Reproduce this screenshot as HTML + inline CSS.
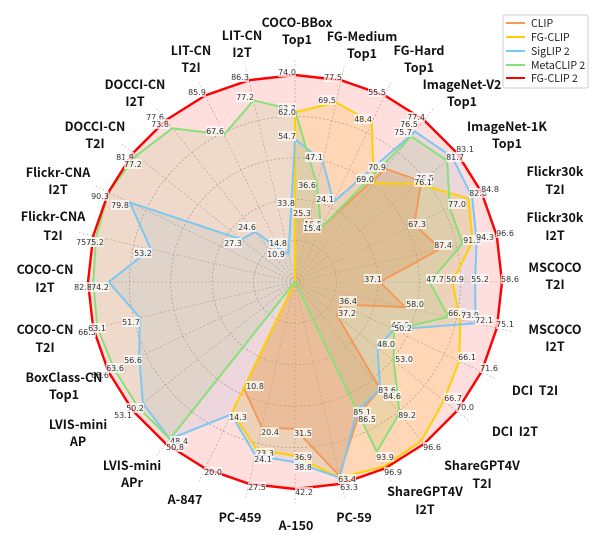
<!DOCTYPE html>
<html><head><meta charset="utf-8">
<style>
html,body{margin:0;padding:0;background:#fff;}
svg{display:block;}
.ax{font-family:"Noto Sans CJK SC","Liberation Sans",sans-serif;font-weight:bold;font-size:12.5px;fill:#111;text-anchor:middle;}
.lg{font-family:"Noto Sans CJK SC","Liberation Sans",sans-serif;font-size:10.5px;fill:#222;}
</style></head>
<body>
<svg id="s" width="600" height="546" viewBox="0 0 600 546" xmlns="http://www.w3.org/2000/svg">
<g id="grid"></g>
<g id="polys"></g>
<g id="vals"></g>
<g>
<text class="ax" x="297" y="27">COCO-BBox</text><text class="ax" x="297" y="44">Top1</text>
<text class="ax" x="362" y="41">FG-Medium</text><text class="ax" x="362" y="58">Top1</text>
<text class="ax" x="419" y="55">FG-Hard</text><text class="ax" x="419" y="72">Top1</text>
<text class="ax" x="462" y="89">ImageNet-V2</text><text class="ax" x="462" y="106">Top1</text>
<text class="ax" x="507" y="131">ImageNet-1K</text><text class="ax" x="507" y="148">Top1</text>
<text class="ax" x="555" y="176">Flickr30k</text><text class="ax" x="555" y="194">T2I</text>
<text class="ax" x="555" y="222">Flickr30k</text><text class="ax" x="555" y="240">I2T</text>
<text class="ax" x="555" y="272">MSCOCO</text><text class="ax" x="555" y="289">T2I</text>
<text class="ax" x="555" y="334">MSCOCO</text><text class="ax" x="555" y="351">I2T</text>
<text class="ax" x="535" y="395">DCI&#160; T2I</text>
<text class="ax" x="515" y="436">DCI&#160; I2T</text>
<text class="ax" x="482" y="470">ShareGPT4V</text><text class="ax" x="482" y="488">T2I</text>
<text class="ax" x="425" y="496">ShareGPT4V</text><text class="ax" x="425" y="514">I2T</text>
<text class="ax" x="354" y="522">PC-59</text>
<text class="ax" x="296" y="530">A-150</text>
<text class="ax" x="240" y="522">PC-459</text>
<text class="ax" x="185" y="504">A-847</text>
<text class="ax" x="132" y="470">LVIS-mini</text><text class="ax" x="132" y="487">APr</text>
<text class="ax" x="78" y="429">LVIS-mini</text><text class="ax" x="78" y="446">AP</text>
<text class="ax" x="64" y="382">BoxClass-CN</text><text class="ax" x="64" y="399">Top1</text>
<text class="ax" x="45" y="334">COCO-CN</text><text class="ax" x="45" y="352">T2I</text>
<text class="ax" x="45" y="274">COCO-CN</text><text class="ax" x="45" y="292">I2T</text>
<text class="ax" x="53" y="221">Flickr-CNA</text><text class="ax" x="53" y="240">T2I</text>
<text class="ax" x="58" y="177">Flickr-CNA</text><text class="ax" x="58" y="194">I2T</text>
<text class="ax" x="95" y="131">DOCCI-CN</text><text class="ax" x="95" y="148">T2I</text>
<text class="ax" x="135" y="89">DOCCI-CN</text><text class="ax" x="135" y="106">I2T</text>
<text class="ax" x="191" y="55">LIT-CN</text><text class="ax" x="191" y="72">T2I</text>
<text class="ax" x="242" y="40">LIT-CN</text><text class="ax" x="242" y="57">I2T</text>
</g>
<g>
<rect x="503" y="15" width="85" height="73" rx="2" fill="#fff" stroke="#ccc" stroke-width="1"/>
<line x1="506" y1="23" x2="525" y2="23" stroke="#f39a5a" stroke-width="2"/><text class="lg" x="531" y="27">CLIP</text>
<line x1="506" y1="37" x2="525" y2="37" stroke="#ffd000" stroke-width="2"/><text class="lg" x="531" y="41">FG-CLIP</text>
<line x1="506" y1="51" x2="525" y2="51" stroke="#7cc8f4" stroke-width="2"/><text class="lg" x="531" y="55">SigLIP 2</text>
<line x1="506" y1="65" x2="525" y2="65" stroke="#88e07a" stroke-width="2"/><text class="lg" x="531" y="69">MetaCLIP 2</text>
<line x1="506" y1="78" x2="525" y2="78" stroke="#ff0000" stroke-width="2"/><text class="lg" x="531" y="82">FG-CLIP 2</text>
</g>
</svg>
<script>
var NS="http://www.w3.org/2000/svg",cx=295,cy=282,R=207,N=28;
function el(t,a,p){var e=document.createElementNS(NS,t);for(var k in a)e.setAttribute(k,a[k]);p.appendChild(e);return e;}
function pt(k,f){var a=k*2*Math.PI/N;return [cx+Math.sin(a)*R*f,cy-Math.cos(a)*R*f];}
var g=document.getElementById("grid");
[0.2,0.4,0.6,0.8].forEach(function(f){el("circle",{cx:cx,cy:cy,r:R*f,fill:"none",stroke:"#999","stroke-width":0.6,"stroke-dasharray":"2,2"},g);});
for(var k=0;k<N;k++){var p=pt(k,1.07);el("line",{x1:cx,y1:cy,x2:p[0],y2:p[1],stroke:"#aaa","stroke-width":0.6,"stroke-dasharray":"2,2"},g);}
var S=[
["#f39a5a",0.3,[0.34,0.32,0.29,0.70,0.78,0.64,0.72,0.41,0.545,0.25,0.26,0.66,0.71,0.96,0.71,0.72,0.57,0,0,0,0,0,0,0,0,0,0,0]],
["#ffd000",0.18,[0.82,0.89,0.855,0.61,0.76,0.93,0.88,0.76,0.82,0.88,0.92,0.98,0.99,0.97,0.84,0.83,0.70,0,0,0,0,0,0,0,0,0,0,0]],
["#7cc8f4",0.15,[0.69,0.60,0.43,0.93,0.97,0.95,0.90,0.87,0.895,0.53,0.51,0.66,0.69,0.97,0.87,0.86,0.71,0.97,0.94,0.835,0.77,0.90,0.715,0.885,0.33,0.31,0.18,0.14]],
["#88e07a",0.16,[0.83,0.48,0.29,0.90,0.94,0.83,0.83,0.65,0.76,0.53,0.61,0.81,0.91,0,0,0,0,0.97,0.97,0.97,0.98,0.975,0.985,1.0,0.98,0.95,0.79,0.90]],
["#ff0000",0.13,[1,1,1,1,1,1,1,1,1,1,1,1,1,1,1,1,1,1,1,1,1,1,1,1,1,1,1,1]]
];
var pg=document.getElementById("polys");
S.forEach(function(s){var pts=[];for(var k=0;k<N;k++){pts.push(pt(k,s[2][k]).join(","));}
el("polygon",{points:pts.join(" "),fill:s[0],"fill-opacity":s[1],stroke:"none"},pg);});
S.forEach(function(s){var pts=[];for(var k=0;k<N;k++){pts.push(pt(k,s[2][k]).join(","));}
el("polygon",{points:pts.join(" "),fill:"none",stroke:s[0],"stroke-width":s[0]=="#ff0000"?2.4:2,"stroke-linejoin":"miter"},pg);});
var L=[[287,72,"74.0"],[240,77,"86.3"],[197,92,"85.9"],[155,117,"77.6"],[160,124,"73.8"],[245,97,"77.2"],[215,131,"67.6"],[287,108,"63.2"],[287,112,"62.0"],[333,77,"77.5"],[327,100,"69.5"],[377,92,"55.5"],[363,119,"48.4"],[416,117,"77.4"],[409,124,"76.5"],[403,132,"75.7"],[287,136,"54.7"],[314,157,"47.1"],[377,167,"70.9"],[365,179,"69.0"],[307,185,"36.6"],[425,178,"76.5"],[423,182,"76.1"],[325,199,"24.1"],[286,203,"33.8"],[302,213,"25.3"],[313,224,"16.5"],[312,228,"15.4"],[417,224,"67.3"],[247,227,"24.6"],[233,243,"27.3"],[278,243,"14.8"],[276,254,"10.9"],[443,245,"87.4"],[373,279,"37.1"],[435,279,"47.7"],
[465,149,"83.1"],[455,157,"81.7"],[478,193,"82.6"],[490,189,"84.8"],[457,204,"77.0"],[472,240,"91.9"],[485,237,"94.3"],[505,233,"96.6"],[455,279,"50.9"],[480,279,"55.2"],[510,279,"58.6"],
[348,301,"36.4"],[415,304,"58.0"],[347,313,"37.2"],[457,313,"66.8"],[470,315,"73.9"],[484,320,"72.1"],[505,324,"75.1"],[400,325,"46.0"],[403,328,"50.2"],[386,344,"48.0"],[404,359,"53.0"],[467,357,"66.1"],[489,368,"71.6"],[387,390,"83.6"],[392,396,"84.6"],[453,398,"66.7"],[465,407,"70.0"],[362,412,"85.1"],[407,415,"89.2"],[367,419,"86.5"],[303,433,"31.5"],[432,447,"96.6"],[303,457,"36.9"],[385,457,"93.9"],[303,467,"38.8"],[393,472,"96.9"],[347,479,"63.4"],[349,487,"63.3"],[304,492,"42.2"],
[255,386,"10.8"],[238,417,"14.3"],[270,432,"20.4"],[265,453,"23.3"],[263,459,"24.1"],[179,441,"48.4"],[175,447,"50.8"],[213,472,"20.0"],[257,487,"27.5"],
[100,196,"90.3"],[120,205,"79.8"],[143,253,"53.2"],[85,242,"75.0"],[95,242,"75.2"],[83,287,"82.8"],[100,287,"74.2"],[131,322,"51.7"],[87,332,"66.5"],[97,328,"63.1"],[133,360,"56.6"],[100,375,"68.6"],[115,368,"63.6"],[135,408,"50.2"],[123,415,"53.1"],[125,157,"81.9"],[133,164,"77.2"]];
var vg=document.getElementById("vals");
L.forEach(function(l){el("rect",{x:l[0]-9,y:l[1]-5,width:18,height:10,fill:"#fff","fill-opacity":0.7},vg);
var t=el("text",{x:l[0],y:l[1]+3,"text-anchor":"middle","font-family":"DejaVu Sans, Liberation Sans, sans-serif","font-size":"8px",fill:"#333"},vg);t.textContent=l[2];});
</script>
</body></html>
